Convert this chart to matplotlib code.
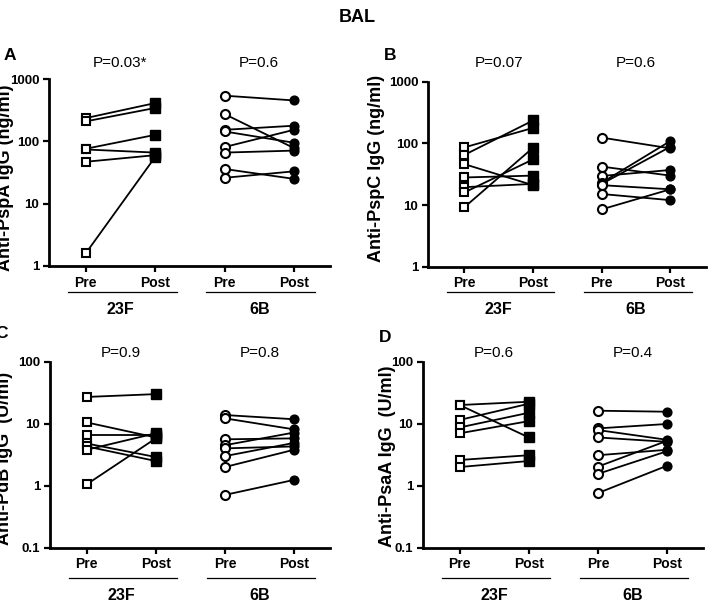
import matplotlib
matplotlib.use("Agg")
import matplotlib.pyplot as plt
import matplotlib.transforms as mtransforms
from matplotlib.ticker import FixedLocator, NullLocator

plt.rcParams['font.family'] = ['Liberation Sans', 'DejaVu Sans']

# values (paired pre/post per subject)
pspa_23f_pre = [236, 209, 76, 74, 47, 1.6]
pspa_23f_post = [411, 343, 127, 66, 60, 56]
pspa_6b_pre = [540, 274, 153, 144, 81, 66, 36, 26]
pspa_6b_post = [453, 78, 178, 95, 153, 71, 25, 33]

pspc_23f_pre = [86, 65, 46, 28, 19.5, 16, 9.2]
pspc_23f_post = [178, 235, 21, 30, 22, 55, 85]
pspc_6b_pre = [124, 42, 29.6, 23, 22, 21, 15.1, 8.5]
pspc_6b_post = [83, 30, 37, 109, 88, 18, 12, 18]

pdb_23f_pre = [27, 10.5, 6.5, 4.8, 4.3, 3.8, 1.05]
pdb_23f_post = [30, 6.0, 6.5, 2.9, 2.5, 7.0, 5.8]
pdb_6b_pre = [13.8, 12.2, 5.6, 4.5, 4.0, 3.0, 2.0, 0.71]
pdb_6b_post = [11.8, 8.1, 5.8, 7.2, 4.3, 4.9, 3.8, 1.24]

psaa_23f_pre = [20, 20, 11.5, 8.7, 7.0, 2.6, 2.0]
psaa_23f_post = [22.6, 6.0, 21, 15, 11, 3.1, 2.5]
psaa_6b_pre = [16.2, 8.4, 7.9, 6.0, 3.1, 2.03, 1.55, 0.76]
psaa_6b_post = [15.6, 9.9, 5.5, 5.1, 3.8, 5.3, 3.6, 2.1]

groups = ["23F", "6B"]
tick_names = ["Pre", "Post", "Pre", "Post"]

W, H = 715, 606
fig = plt.figure(figsize=(W / 100, H / 100), dpi=100)


def fy(y):
    return 1 - y / H


def fx(x):
    return x / W


def panel(rect_px, letter, letter_px, ylabel, ylabel_px, ylim, yticks,
          pre23, post23, pre6, post6, pvals, p_y, line_y, txt_y):
    l, t, r, b = rect_px
    ax = fig.add_axes([fx(l), fy(b), fx(r - l), fy(t) - fy(b)])

    for a, bb in zip(pre23, post23):
        ax.plot([0, 1], [a, bb], color='black', lw=1.3, zorder=2)
    for a, bb in zip(pre6, post6):
        ax.plot([2, 3], [a, bb], color='black', lw=1.3, zorder=2)

    ax.plot([0] * len(pre23), pre23, 's', ms=6.2, mfc='white', mec='black', mew=1.5, zorder=3)
    ax.plot([1] * len(post23), post23, 's', ms=7, mfc='black', mec='black', zorder=3)
    ax.plot([2] * len(pre6), pre6, 'o', ms=6.5, mfc='white', mec='black', mew=1.5, zorder=3)
    ax.plot([3] * len(post6), post6, 'o', ms=6.3, mfc='black', mec='black', zorder=3)

    ax.set_yscale('log')
    ax.set_ylim(*ylim)
    ax.set_xlim(-0.53, 3.52)
    ax.yaxis.set_major_locator(FixedLocator(yticks))
    ax.yaxis.set_minor_locator(NullLocator())
    ax.set_yticklabels([f'{v:g}' for v in yticks], fontsize=9.5, fontweight='bold')
    ax.set_xticks([0, 1, 2, 3])
    ax.set_xticklabels(tick_names, fontsize=10, fontweight='bold')
    ax.xaxis.set_minor_locator(NullLocator())

    for s in ['top', 'right']:
        ax.spines[s].set_visible(False)
    for s in ['left', 'bottom']:
        ax.spines[s].set_linewidth(2)
    ax.tick_params(axis='both', direction='out', length=4, width=1.6, pad=3)

    trans = mtransforms.blended_transform_factory(ax.transData, fig.transFigure)
    # P values above each group
    for xc, p in zip([0.5, 2.5], pvals):
        ax.text(xc, fy(p_y), p, transform=trans, ha='center', va='center', fontsize=11)
    # group underlines and names
    for (x0, x1), xc, g in zip([(-0.26, 1.31), (1.74, 3.31)], [0.5, 2.5], groups):
        ax.plot([x0, x1], [fy(line_y), fy(line_y)], transform=trans, color='black',
                lw=0.9, clip_on=False)
        ax.text(xc, fy(txt_y), g, transform=trans, ha='center', va='center',
                fontsize=11.5, fontweight='bold')

    fig.text(fx(letter_px[0]), fy(letter_px[1]), letter, ha='center', va='center',
             fontsize=12.5, fontweight='bold')
    fig.text(fx(ylabel_px[0]), fy(ylabel_px[1]), ylabel, rotation=90, ha='center',
             va='center', fontsize=13, fontweight='bold')
    return ax


fig.text(0.5, fy(18), 'BAL', ha='center', va='center', fontsize=13, fontweight='bold')

panel((49, 79, 330, 266), 'A', (10, 55), 'Anti-PspA IgG (ng/ml)', (6, 178),
      (1, 1000), [1, 10, 100, 1000],
      pspa_23f_pre, pspa_23f_post, pspa_6b_pre, pspa_6b_post,
      ['P=0.03*', 'P=0.6'], 63, 292, 310)

panel((428, 81.7, 706, 266.7), 'B', (390, 55), 'Anti-PspC IgG (ng/ml)', (377, 168),
      (1, 1000), [1, 10, 100, 1000],
      pspc_23f_pre, pspc_23f_post, pspc_6b_pre, pspc_6b_post,
      ['P=0.07', 'P=0.6'], 63, 292, 310)

panel((50, 361.7, 330, 547.7), 'C', (2, 333), 'Anti-PdB IgG  (U/ml)', (5, 458),
      (0.1, 100), [0.1, 1, 10, 100],
      pdb_23f_pre, pdb_23f_post, pdb_6b_pre, pdb_6b_post,
      ['P=0.9', 'P=0.8'], 353, 577.7, 595)

panel((423, 361.7, 703, 547.7), 'D', (385, 338), 'Anti-PsaA IgG  (U/ml)', (388, 456),
      (0.1, 100), [0.1, 1, 10, 100],
      psaa_23f_pre, psaa_23f_post, psaa_6b_pre, psaa_6b_post,
      ['P=0.6', 'P=0.4'], 353, 577.7, 595)

fig.savefig('out.png', dpi=100, facecolor='white')
